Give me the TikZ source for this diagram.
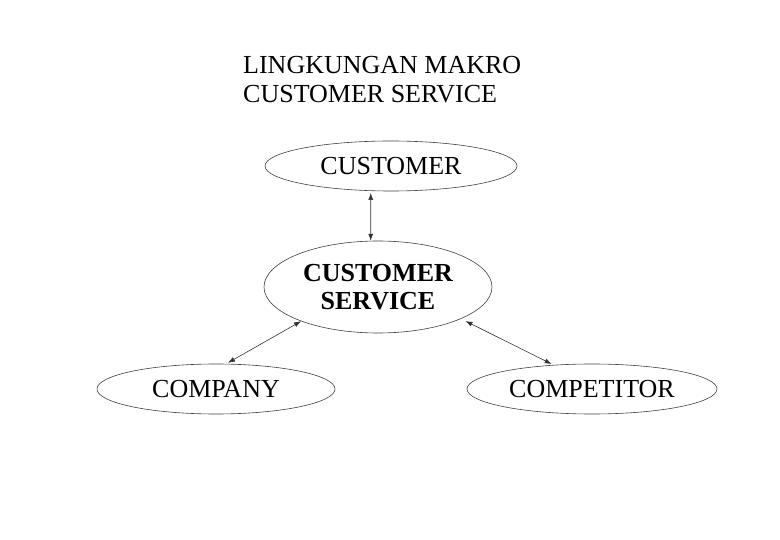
\documentclass[tikz,border=0pt]{standalone}
\usepackage{fontspec}
\setmainfont{Liberation Serif}
\usetikzlibrary{shapes.geometric,arrows.meta}
\begin{document}
\begin{tikzpicture}[x=1pt,y=-1pt,
  oval/.style={ellipse,draw=black!75,line width=0.6pt,inner sep=0pt,font=\fontsize{26}{28}\selectfont},
  link/.style={line width=0.6pt,draw=black!80,{Latex[length=7pt,width=5pt]}-{Latex[length=7pt,width=5pt]}}]
\useasboundingbox (0,0) rectangle (780,540);
\node[anchor=north west,align=left,inner sep=0pt,font=\fontsize{26}{29}\selectfont] (title) at (243,56) {LINGKUNGAN MAKRO\\CUSTOMER SERVICE};
\node[oval,minimum width=252,minimum height=50] (cust) at (391,166) {CUSTOMER};
\node[oval,minimum width=228,minimum height=92,align=center,font=\fontsize{26}{28}\selectfont\bfseries] (cs) at (378,287) {CUSTOMER\\SERVICE};
\node[oval,minimum width=238,minimum height=50] (comp) at (216,389) {COMPANY};
\node[oval,minimum width=250,minimum height=50] (compet) at (592,389) {COMPETITOR};
\draw[link,shorten <=2pt] (cust.231) -- (cs.99);
\draw[link,shorten >=2pt] (cs.204) -- (comp.68);
\draw[link,shorten >=2pt,shorten <=5pt] (cs.339) -- (compet.148);
\end{tikzpicture}
\end{document}
